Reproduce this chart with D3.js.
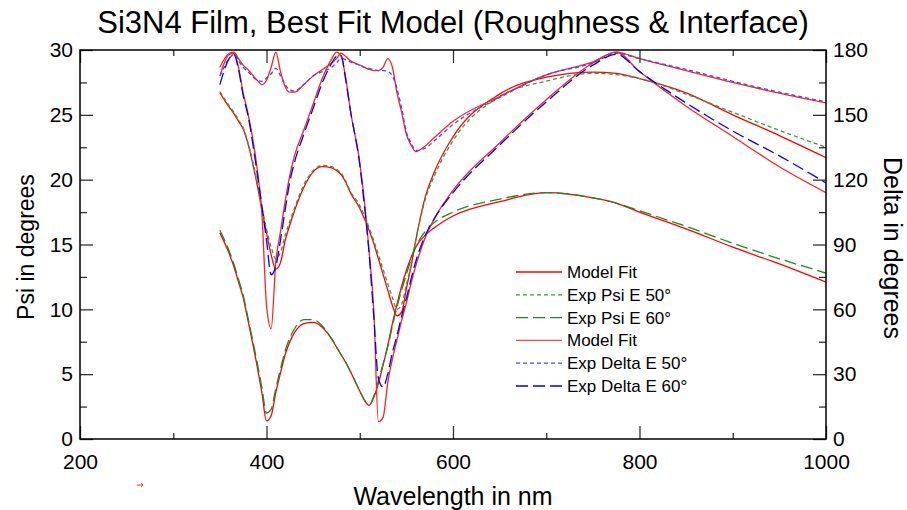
<!DOCTYPE html>
<html>
<head>
<meta charset="utf-8">
<script src="https://cdn.jsdelivr.net/npm/d3@7"></script>
<style>
  body { margin: 0; background: #fff; }
  text { font-family: "Liberation Sans", Arial, sans-serif; fill: #000; }
</style>
</head>
<body>
<svg id="chart" width="907" height="510"></svg>
<script>
// wavelengths (nm) shared by every series
var wavelength = [350,360,365,370,375,380,390,395,400,405,410,415,420,425,430,440,450,460,470,475,480,485,490,500,505,510,515,520,525,530,535,540,545,550,555,560,570,580,600,650,700,750,775,800,850,900,950,1000];

// Psi (left axis)
var psi50Exp = [26.8,25.7,25.2,24.6,24.0,22.9,19.8,17.9,16.2,14.8,13.9,14.4,15.7,16.8,17.8,19.6,20.7,21.1,21.0,20.8,20.5,19.9,19.1,18.0,17.2,16.3,15.3,14.2,13.1,12.0,10.9,10.0,10.4,11.9,13.4,15.3,18.4,20.3,23.0,26.4,27.6,28.2,28.1,27.8,26.6,25.2,23.8,22.5];
var psi50Fit = [26.7,25.6,25.1,24.5,23.9,22.8,19.6,17.7,15.9,14.2,13.1,13.6,15.3,16.5,17.6,19.4,20.6,21.0,20.9,20.7,20.4,19.8,19.0,17.8,17.0,16.1,15.1,13.9,12.7,11.5,10.3,9.5,9.8,11.6,13.3,15.3,18.6,20.6,23.3,26.6,27.9,28.3,28.2,27.8,26.7,25.0,23.4,21.7];
var psi60Exp = [16.1,14.5,13.5,12.3,11.1,9.4,5.9,4.0,2.0,2.3,3.9,5.4,6.8,7.8,8.5,9.2,9.2,8.7,7.7,7.1,6.5,5.9,5.2,3.7,3.0,2.6,3.3,4.5,5.8,7.1,8.7,10.2,11.5,12.7,13.8,14.8,16.0,16.7,17.5,18.5,19.0,18.6,18.2,17.6,16.4,15.1,13.9,12.8];
var psi60Fit = [15.9,14.3,13.3,12.1,10.9,9.2,5.6,3.6,1.4,1.8,3.6,5.1,6.5,7.5,8.2,8.9,9.0,8.6,7.7,7.1,6.5,5.9,5.2,3.7,3.0,2.6,3.2,4.3,5.7,7.2,8.9,10.4,11.8,13.0,14.0,14.8,15.7,16.3,17.2,18.3,19.0,18.6,18.2,17.5,16.2,14.8,13.5,12.1];

// Delta (right axis)
var delta50Exp = [168,176,178,175,172,170,166,165.5,167,169,171.5,168,164,161.5,161,164,168,170,172,174,176,175.5,174.5,173,172,171.5,171,170.5,170.5,170,168,162,153,142,137,133.5,134.5,138,145.5,158,168.5,174,178.5,176,171,165.5,160.5,156];
var delta50Fit = [172,178.5,179,176,173,171,166,164,166,172,179,170,163,160.5,160.5,164,168,171,174,176,178.5,177,175,173,172,171,170.5,170.5,172,176,172,160,151,141,136,133,135.5,139.5,147,158.5,168.5,174.5,179,176,170.5,165,160,155.5];
var delta60Exp = [164,176,178,171,159,150,123,108,92,76,80,92,106,119,128,141,153,165,174,177,177.5,166,152,127,108,86,57,28,24,30,40,48,57,65,74,82,94,102,114,136,156,173,178,170,155.5,142.5,131,118.5];
var delta60Fit = [168,178,178.5,172,160,151,125,105,62,51,82,96,110,122,131,143,155,167,176,179,177,167,152,128,110,87,60,8,10,26,37,46,55,63,72,80,93,102,115,137,157,174,179,170,154,140,126,114];

var xTicks = [200,400,600,800,1000];
var psiTicks = [0,5,10,15,20,25,30];
var deltaTicks = [0,30,60,90,120,150,180];
var legendLabels = ["Model Fit","Exp Psi E 50\u00b0","Exp Psi E 60\u00b0","Model Fit","Exp Delta E 50\u00b0","Exp Delta E 60\u00b0"];

var margin = {top: 50, right: 81, bottom: 71, left: 80},
    width = 907 - margin.left - margin.right,
    height = 510 - margin.top - margin.bottom;

var svg = d3.select("#chart");
var g = svg.append("g").attr("transform", "translate(" + margin.left + "," + margin.top + ")");

var x = d3.scaleLinear().domain([200, 1000]).range([0, width]);
var yPsi = d3.scaleLinear().domain([0, 30]).range([height, 0]);
var yDelta = d3.scaleLinear().domain([0, 180]).range([height, 0]);

// series in drawing / legend order
var series = [
  {values: psi50Fit, y: yPsi, color: "#ff0000", dash: null},
  {values: psi60Fit, y: yPsi, color: "#ff0000", dash: null},
  {values: psi50Exp, y: yPsi, color: "#3a9a3a", dash: "4,3"},
  {values: psi60Exp, y: yPsi, color: "#1f8a1f", dash: "12,5"},
  {values: delta50Fit, y: yDelta, color: "#ff2020", dash: null},
  {values: delta60Fit, y: yDelta, color: "#ff2020", dash: null},
  {values: delta50Exp, y: yDelta, color: "#4646ff", dash: "4,3"},
  {values: delta60Exp, y: yDelta, color: "#0000f0", dash: "12,5"}
];
var legendItems = [
  {label: legendLabels[0], color: "#ff0000", dash: null},
  {label: legendLabels[1], color: "#3a9a3a", dash: "4,3"},
  {label: legendLabels[2], color: "#1f8a1f", dash: "12,5"},
  {label: legendLabels[3], color: "#ff4a4a", dash: null},
  {label: legendLabels[4], color: "#4646ff", dash: "4,3"},
  {label: legendLabels[5], color: "#0000f0", dash: "12,5"}
];

g.append("defs").append("clipPath").attr("id", "clip")
  .append("rect").attr("width", width).attr("height", height);

var lines = g.append("g").attr("clip-path", "url(#clip)");
series.forEach(function(s) {
  var line = d3.line()
    .curve(d3.curveMonotoneX)
    .x(function(d, i) { return x(wavelength[i]); })
    .y(function(d) { return s.y(d); });
  lines.append("path")
    .attr("d", line(s.values))
    .attr("fill", "none")
    .attr("stroke", s.color)
    .attr("stroke-width", 1.3)
    .attr("stroke-dasharray", s.dash);
});

// minor ticks
function minor(axis) { return axis.tickFormat(""); }
g.append("g").attr("class", "minor")
  .call(minor(d3.axisLeft(yPsi).tickValues(d3.range(2.5, 30, 5)).tickSize(-7)));
g.append("g").attr("class", "minor").attr("transform", "translate(" + width + ",0)")
  .call(minor(d3.axisRight(yDelta).tickValues(d3.range(15, 180, 30)).tickSize(-7)));
g.append("g").attr("class", "minor").attr("transform", "translate(0," + height + ")")
  .call(minor(d3.axisBottom(x).tickValues(d3.range(300, 1000, 200)).tickSize(-6)));
g.append("g").attr("class", "minor")
  .call(minor(d3.axisTop(x).tickValues(d3.range(300, 1000, 200)).tickSize(-6)));
g.append("g").attr("class", "minor")
  .call(minor(d3.axisTop(x).tickValues(xTicks).tickSize(-13)));

// major axes
g.append("g").attr("class", "axis")
  .call(d3.axisLeft(yPsi).tickValues(psiTicks).tickSize(-13).tickPadding(7));
g.append("g").attr("class", "axis").attr("transform", "translate(" + width + ",0)")
  .call(d3.axisRight(yDelta).tickValues(deltaTicks).tickSize(-13).tickPadding(7));
g.append("g").attr("class", "axis").attr("transform", "translate(0," + height + ")")
  .call(d3.axisBottom(x).tickValues(xTicks).tickSize(-13).tickPadding(15).tickFormat(d3.format("d")));

g.selectAll(".axis path, .minor path").remove();
g.selectAll(".axis line, .minor line").attr("stroke", "#333").attr("stroke-width", 1.3);
g.selectAll(".axis text").style("font-family", "Liberation Sans, Arial, sans-serif").style("font-size", "21px").attr("fill", "#000");

// frame
g.append("rect")
  .attr("width", width).attr("height", height)
  .attr("fill", "none").attr("stroke", "#000").attr("stroke-width", 1.5);

// titles
svg.append("text").attr("x", 453).attr("y", 33).attr("text-anchor", "middle")
  .style("font-size", "31px").text("Si3N4 Film, Best Fit Model (Roughness & Interface)");
svg.append("text").attr("x", 453).attr("y", 505).attr("text-anchor", "middle")
  .style("font-size", "25px").text("Wavelength in nm");
svg.append("text").attr("transform", "translate(34,247) rotate(-90)").attr("text-anchor", "middle")
  .style("font-size", "23px").text("Psi in degrees");
svg.append("text").attr("transform", "translate(884,248) rotate(90)").attr("text-anchor", "middle")
  .style("font-size", "25px").text("Delta in degrees");

// legend
var legend = g.append("g").attr("transform", "translate(436,222)");
legendItems.forEach(function(d, i) {
  var row = legend.append("g").attr("transform", "translate(0," + (i * 22.8) + ")");
  row.append("line").attr("x1", 0).attr("x2", 46)
    .attr("stroke", d.color).attr("stroke-width", 1.3).attr("stroke-dasharray", d.dash);
  row.append("text").attr("x", 51).attr("y", 6).style("font-size", "17px").text(d.label);
});

// small red mark under the x axis
svg.append("path").attr("d", "M137,485 L143,485 M141,483 L143,485 L141,487")
  .attr("stroke", "#ff3030").attr("stroke-width", 1).attr("fill", "none");
</script>
</body>
</html>
